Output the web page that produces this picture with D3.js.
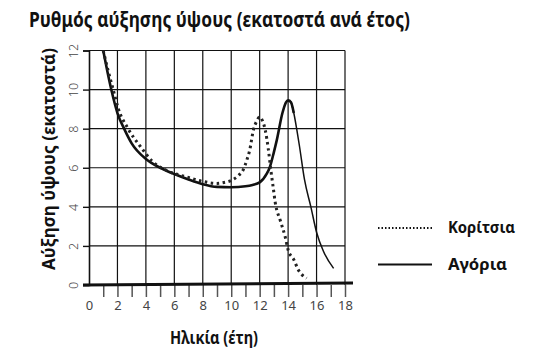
<!DOCTYPE html>
<html><head><meta charset="utf-8">
<script src="https://cdn.jsdelivr.net/npm/d3@7"></script>
<style>
html,body{margin:0;padding:0;background:#fff;}
svg{display:block;}
text{font-family:"Noto Sans","DejaVu Sans",sans-serif;}
</style></head>
<body>
<svg id="chart" width="554" height="364"></svg>
<script>
// ---- data ----
const titleText = "Ρυθμός αύξησης ύψους (εκατοστά ανά έτος)";
const xTitle = "Ηλικία (έτη)";
const yTitle = "Αύξηση ύψους (εκατοστά)";
const seriesNames = ["Κορίτσια", "Αγόρια"];
const xTickValues = [0, 2, 4, 6, 8, 10, 12, 14, 16, 18];
const xMinorTicks = [1,2,3,4,5,6,7,8,9,10,11,12,13,14,15,16,17,18];
const yTickValues = [0, 2, 4, 6, 8, 10, 12];

const girlsAge = [1.0, 1.35, 1.7, 2.05, 2.75, 3.6, 4.5, 5.5, 7.0, 8.0, 9.0, 9.5, 10.0, 10.5, 10.85, 11.1, 11.3, 11.55, 11.8, 12.0, 12.2, 12.4, 12.6, 12.8, 12.95, 13.1, 13.45, 13.8, 14.0, 14.4, 14.7, 15.3];
const girlsRate = [12.0, 10.95, 10.0, 9.05, 8.0, 7.1, 6.3, 5.85, 5.5, 5.3, 5.2, 5.25, 5.35, 5.6, 5.9, 6.4, 6.9, 7.9, 8.4, 8.6, 8.4, 7.9, 7.0, 5.8, 5.0, 4.2, 3.3, 2.45, 1.8, 1.3, 0.8, 0.35];

const boysAge = [1.0, 1.3, 1.6, 2.0, 2.5, 3.0, 4.0, 5.0, 6.0, 7.0, 8.0, 9.0, 10.0, 11.0, 11.5, 12.0, 12.5, 12.7, 13.0, 13.2, 13.6, 13.85, 14.0, 14.2, 14.4, 14.6, 14.8, 15.15, 15.6, 16.0, 16.5, 17.2];
const boysRate = [12.0, 10.9, 9.9, 8.8, 7.95, 7.25, 6.45, 6.0, 5.68, 5.4, 5.16, 5.02, 5.0, 5.05, 5.12, 5.25, 5.7, 6.0, 6.8, 7.4, 8.8, 9.35, 9.45, 9.35, 8.8, 8.0, 7.1, 5.4, 4.0, 2.7, 1.7, 0.85];

// ---- layout ----
const svg = d3.select("#chart");
const x = d3.scaleLinear().domain([0, 18]).range([89, 345]);
const y = d3.scaleLinear().domain([0, 12]).range([285, 50.5]);

// title
svg.append("text").attr("x", 29).attr("y", 27)
  .attr("font-size", 20.5).attr("font-weight", "bold").attr("fill", "#111")
  .attr("textLength", 381).attr("lengthAdjust", "spacingAndGlyphs")
  .text(titleText);

// grid
const grid = svg.append("g").attr("stroke", "#111").attr("stroke-width", 1.2);
grid.selectAll("line.h").data(yTickValues.filter(d => d > 0)).join("line")
  .attr("x1", x(0)).attr("x2", x(18)).attr("y1", d => y(d)).attr("y2", d => y(d));
grid.selectAll("line.v").data(xTickValues.filter(d => d > 0)).join("line")
  .attr("class", "v")
  .attr("y1", y(0)).attr("y2", y(12)).attr("x1", d => x(d)).attr("x2", d => x(d));

// y axis
const yAxis = svg.append("g").attr("transform", `translate(${x(0)},0)`)
  .call(d3.axisLeft(y).tickValues(yTickValues).tickSize(6).tickPadding(0).tickFormat(d3.format("d")));
yAxis.select(".domain").attr("stroke", "#111").attr("stroke-width", 1.6);
yAxis.selectAll(".tick line").attr("stroke", "#111").attr("stroke-width", 1.4);
yAxis.selectAll(".tick text")
  .attr("x", 0).attr("dy", null).attr("text-anchor", "middle")
  .attr("transform", "translate(-11,0) rotate(-90)")
  .attr("dominant-baseline", "auto")
  .attr("font-size", 12.5).attr("fill", "#444")
  .attr("font-family", "'DejaVu Sans', sans-serif").attr("font-weight", 300);

// x axis: minor ticks + labels
const xAxis = svg.append("g").attr("transform", `translate(0,${y(0)})`)
  .call(d3.axisBottom(x).tickValues(xMinorTicks).tickSize(12).tickFormat(""));
xAxis.select(".domain").remove();
xAxis.selectAll(".tick line").attr("stroke", "#555").attr("stroke-width", 1.5);
const xLab = svg.append("g").attr("transform", `translate(0,${y(0)})`)
  .call(d3.axisBottom(x).tickValues(xTickValues).tickSize(0).tickPadding(16).tickFormat(d3.format("d")));
xLab.select(".domain").remove();
xLab.selectAll(".tick text").attr("font-size", 13).attr("fill", "#444")
  .attr("font-family", "'DejaVu Sans', sans-serif");
// thick baseline
svg.append("line").attr("x1", 83).attr("x2", 353).attr("y1", y(0)).attr("y2", y(0) - 2)
  .attr("stroke", "#111").attr("stroke-width", 3);

// axis titles
svg.append("text").attr("x", 214).attr("y", 344).attr("text-anchor", "middle")
  .attr("font-size", 17).attr("font-weight", "bold").attr("fill", "#111")
  .attr("textLength", 88).attr("lengthAdjust", "spacingAndGlyphs").text(xTitle);
svg.append("text").attr("transform", "translate(55,159) rotate(-90)").attr("text-anchor", "middle")
  .attr("font-size", 17).attr("font-weight", "bold").attr("fill", "#111")
  .attr("textLength", 222).attr("lengthAdjust", "spacingAndGlyphs").text(yTitle);

// curves
const line = d3.line().x(d => x(d[0])).y(d => y(d[1])).curve(d3.curveMonotoneX);
const girls = girlsAge.map((a, i) => [a, girlsRate[i]]);
const boys = boysAge.map((a, i) => [a, boysRate[i]]);
svg.append("path").attr("d", line(boys.filter(d => d[0] <= 14.4)))
  .attr("fill", "none").attr("stroke", "#111").attr("stroke-width", 2.6);
svg.append("path").attr("d", line(boys.filter(d => d[0] >= 14.0)))
  .attr("fill", "none").attr("stroke", "#111").attr("stroke-width", 1.5);
svg.append("path").attr("d", line(girls))
  .attr("fill", "none").attr("stroke", "#222").attr("stroke-width", 3)
  .attr("stroke-dasharray", "2.5,3.5");

// legend
const legend = svg.append("g");
legend.append("line").attr("x1", 378).attr("x2", 432).attr("y1", 228).attr("y2", 228)
  .attr("stroke", "#111").attr("stroke-width", 1.8).attr("stroke-dasharray", "1.5,2");
legend.append("line").attr("x1", 378).attr("x2", 432).attr("y1", 264.5).attr("y2", 264.5)
  .attr("stroke", "#111").attr("stroke-width", 1.8);
legend.append("text").attr("x", 448).attr("y", 233).attr("font-size", 16.5).attr("font-weight", "bold")
  .attr("fill", "#111").attr("textLength", 67).attr("lengthAdjust", "spacingAndGlyphs").text(seriesNames[0]);
legend.append("text").attr("x", 448).attr("y", 269.5).attr("font-size", 16.5).attr("font-weight", "bold")
  .attr("fill", "#111").attr("textLength", 59).attr("lengthAdjust", "spacingAndGlyphs").text(seriesNames[1]);
</script>
</body></html>
